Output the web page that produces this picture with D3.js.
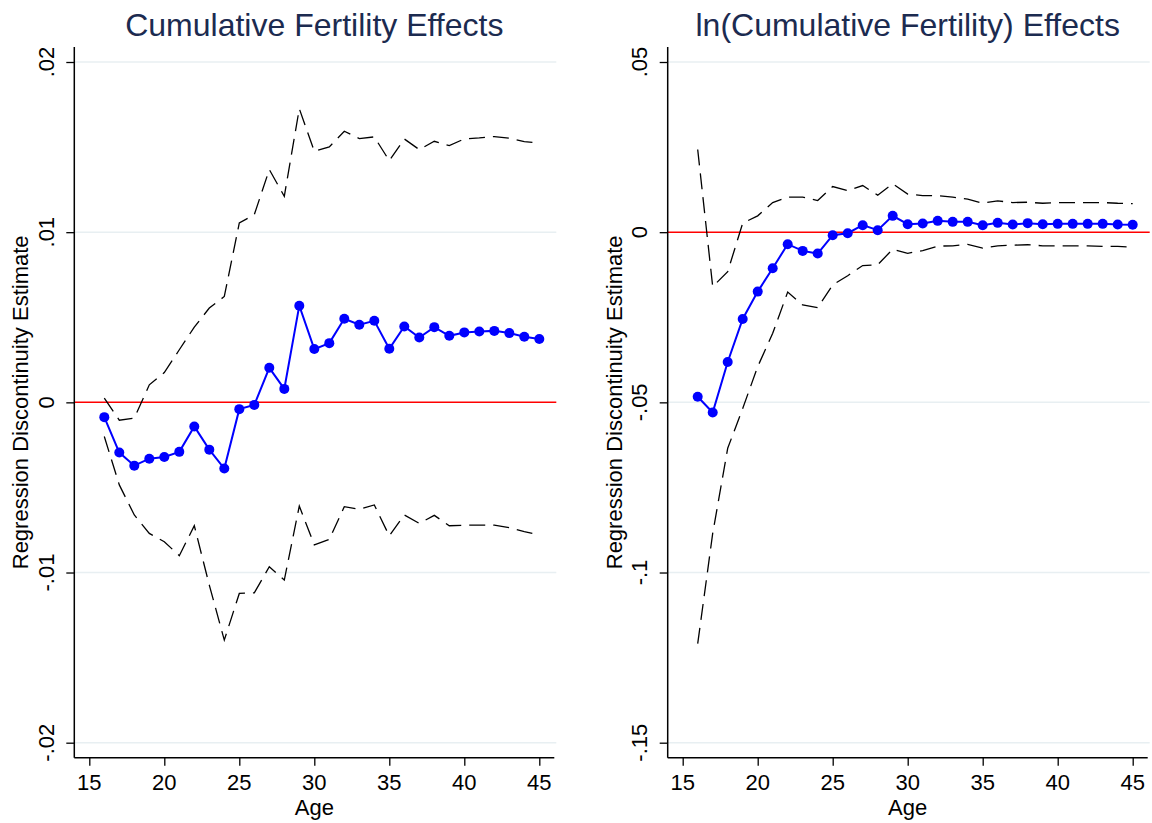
<!DOCTYPE html>
<html>
<head>
<meta charset="utf-8">
<script src="https://cdn.jsdelivr.net/npm/d3@7"></script>
<style>
  body { margin: 0; background: #fff; }
  svg text { font-family: "Liberation Sans", Arial, sans-serif; }
</style>
</head>
<body>
<div id="chart"></div>
<script>
// ages on the x axis
const ages = [16, 17, 18, 19, 20, 21, 22, 23, 24, 25, 26, 27, 28, 29, 30,
  31, 32, 33, 34, 35, 36, 37, 38, 39, 40, 41, 42, 43, 44, 45];

// left panel: cumulative fertility
const cumEst = [-0.00087, -0.00295, -0.00372, -0.00331, -0.00321, -0.00291, -0.00142, -0.00278, -0.00389, -0.0004,
  -0.00015, 0.00203, 0.00079, 0.00568, 0.00313, 0.00348, 0.00491, 0.00456, 0.00479, 0.00315,
  0.00446, 0.00381, 0.00442, 0.00391, 0.00411, 0.00416, 0.0042, 0.00407, 0.00385, 0.00372];
const cumUpper = [0.00025, -0.00105, -0.00093, 0.00103, 0.00175, 0.00309, 0.00442, 0.00554, 0.00622, 0.01054,
  0.01103, 0.01368, 0.01211, 0.01726, 0.01475, 0.01501, 0.01593, 0.0155, 0.0156, 0.0142,
  0.01548, 0.01485, 0.01534, 0.01509, 0.01548, 0.01554, 0.01562, 0.01552, 0.01532, 0.01525];
const cumLower = [-0.00201, -0.00485, -0.00662, -0.0077, -0.00819, -0.00901, -0.00725, -0.01074, -0.01397, -0.01123,
  -0.01119, -0.00966, -0.01044, -0.00609, -0.00838, -0.00805, -0.00613, -0.00628, -0.00603, -0.00785,
  -0.00662, -0.00711, -0.00664, -0.00725, -0.00722, -0.00721, -0.00722, -0.00736, -0.0076, -0.00779];

// right panel: ln(cumulative fertility)
const lnEst = [-0.04835, -0.053, -0.03815, -0.0255, -0.01746, -0.01059, -0.00353, -0.0055, -0.00629, -0.00088,
  -0.0003, 0.00206, 0.00059, 0.0048, 0.00235, 0.00255, 0.00333, 0.00303, 0.00303, 0.00206,
  0.00274, 0.00225, 0.00265, 0.00235, 0.00245, 0.00245, 0.00245, 0.00245, 0.00225, 0.00216];
const lnUpper = [0.0243, -0.016, -0.0116, 0.00265, 0.0048, 0.0087, 0.0103, 0.0103, 0.0093, 0.0134,
  0.01224, 0.0137, 0.01088, 0.0142, 0.01118, 0.01076, 0.01076, 0.0103, 0.0097, 0.00853,
  0.0092, 0.0087, 0.0088, 0.0085, 0.0087, 0.0087, 0.0087, 0.0087, 0.0085, 0.0084];
const lnLower = [-0.1209, -0.0885, -0.0635, -0.0518, -0.0395, -0.0297, -0.0176, -0.0214, -0.0222, -0.0155,
  -0.0128, -0.0098, -0.0096, -0.005, -0.0062, -0.0054, -0.0041, -0.004, -0.0036, -0.0047,
  -0.004, -0.0038, -0.0037, -0.004, -0.004, -0.004, -0.004, -0.0042, -0.0042, -0.0044];

// ticks
const xTicks = [15, 20, 25, 30, 35, 40, 45];
const cumTicks = [-0.02, -0.01, 0, 0.01, 0.02];
const cumTickLabels = ["-.02", "-.01", "0", ".01", ".02"];
const lnTicks = [-0.15, -0.1, -0.05, 0, 0.05];
const lnTickLabels = ["-.15", "-.1", "-.05", "0", ".05"];

const W = 1152, H = 823;
const svg = d3.select("#chart").append("svg")
  .attr("width", W)
  .attr("height", H);

function drawPanel(opts) {
  const left = opts.left, right = opts.left + 480;
  const top = 47, bottom = 757.7;

  const x = d3.scaleLinear().domain([14, 46]).range([left, right]);
  // outer ticks sit 15px inside the plot frame
  const extra = 15 / (742.7 - 62.3) * (opts.yDomain[1] - opts.yDomain[0]);
  const y = d3.scaleLinear()
    .domain([opts.yDomain[0] - extra, opts.yDomain[1] + extra])
    .range([bottom, top]);

  const g = svg.append("g");

  // gridlines
  g.selectAll(".grid")
    .data(opts.yTicks.filter(d => d !== 0))
    .join("line")
    .attr("x1", left).attr("x2", right + 2)
    .attr("y1", d => y(d)).attr("y2", d => y(d))
    .attr("stroke", "#e8eff2")
    .attr("stroke-width", 1.5);

  // red zero line
  g.append("line")
    .attr("x1", left).attr("x2", right + 2)
    .attr("y1", y(0)).attr("y2", y(0))
    .attr("stroke", "#ff0000")
    .attr("stroke-width", 1.5);

  // y axis
  const yAxis = g.append("g")
    .attr("transform", `translate(${left},0)`)
    .call(d3.axisLeft(y).tickValues(opts.yTicks).tickSize(8).tickFormat(""));
  yAxis.select(".domain").attr("d", `M0,${top}V${bottom}`).attr("stroke-width", 1.5);
  yAxis.selectAll(".tick line").attr("stroke-width", 1.3);

  g.selectAll(".ylab")
    .data(opts.yTicks)
    .join("text")
    .attr("transform", d => `translate(${left - 20.7},${y(d)}) rotate(-90)`)
    .attr("text-anchor", "middle")
    .attr("font-size", 22)
    .attr("fill", "#000")
    .text((d, i) => opts.yTickLabels[i]);

  // x axis
  const xAxis = g.append("g")
    .attr("transform", `translate(0,${bottom})`)
    .call(d3.axisBottom(x).tickValues(xTicks).tickSize(8).tickFormat(""));
  xAxis.select(".domain").attr("d", `M${left},0H${right}`).attr("stroke-width", 1.5);
  xAxis.selectAll(".tick line").attr("stroke-width", 1.3);

  g.selectAll(".xlab")
    .data(xTicks)
    .join("text")
    .attr("x", d => x(d))
    .attr("y", 790)
    .attr("text-anchor", "middle")
    .attr("font-size", 22)
    .attr("fill", "#000")
    .text(d => d);

  g.append("text")
    .attr("x", (left + right) / 2)
    .attr("y", 814.5)
    .attr("text-anchor", "middle")
    .attr("font-size", 22)
    .text("Age");

  g.append("text")
    .attr("transform", `translate(${left - 45.9},${(top + bottom) / 2}) rotate(-90)`)
    .attr("text-anchor", "middle")
    .attr("font-size", 22)
    .text("Regression Discontinuity Estimate");

  // title
  g.append("text")
    .attr("x", (left + right) / 2)
    .attr("y", 36)
    .attr("text-anchor", "middle")
    .attr("font-size", 32)
    .attr("fill", "#1c2b50")
    .text(opts.title);

  const line = d3.line()
    .x((d, i) => x(ages[i]))
    .y(d => y(d));

  // confidence bands
  [opts.upper, opts.lower].forEach(s => {
    g.append("path")
      .datum(s)
      .attr("d", line)
      .attr("fill", "none")
      .attr("stroke", "#000")
      .attr("stroke-width", 1.3)
      .attr("stroke-dasharray", "16,8");
  });

  // estimates
  g.append("path")
    .datum(opts.est)
    .attr("d", line)
    .attr("fill", "none")
    .attr("stroke", "#0000ff")
    .attr("stroke-width", 2);

  g.selectAll(".dot")
    .data(opts.est)
    .join("circle")
    .attr("cx", (d, i) => x(ages[i]))
    .attr("cy", d => y(d))
    .attr("r", 5)
    .attr("fill", "#0000ff");
}

drawPanel({
  left: 74.3,
  yDomain: [-0.02, 0.02],
  yTicks: cumTicks,
  yTickLabels: cumTickLabels,
  title: "Cumulative Fertility Effects",
  est: cumEst, upper: cumUpper, lower: cumLower
});

drawPanel({
  left: 667.7,
  yDomain: [-0.15, 0.05],
  yTicks: lnTicks,
  yTickLabels: lnTickLabels,
  title: "ln(Cumulative Fertility) Effects",
  est: lnEst, upper: lnUpper, lower: lnLower
});
</script>
</body>
</html>
